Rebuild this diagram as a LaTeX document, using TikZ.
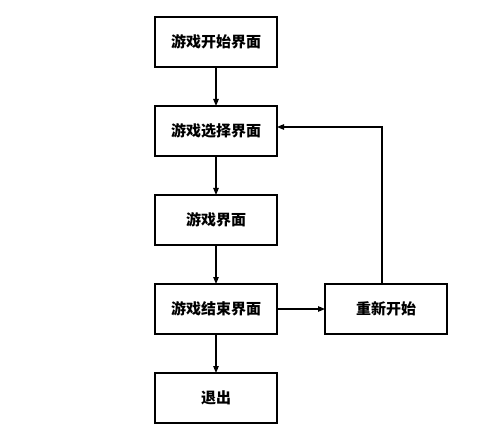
\documentclass[tikz,border=0pt]{standalone}
\usepackage{fontspec}
\newfontfamily\cjk{Noto Sans CJK SC}
\usetikzlibrary{arrows.meta, positioning}

\begin{document}
\begin{tikzpicture}[
    x=1pt, y=1pt,
    node distance=39pt and 48pt,
    stage/.style={rectangle, draw=black, line width=1.1pt, minimum width=122pt, minimum height=50pt, inner sep=0pt, outer sep=0pt, align=center, font=\cjk\bfseries\fontsize{15}{18}\selectfont},
    arrow/.style={-{Triangle[length=7pt, width=5.5pt]}, line width=1.1pt, draw=black}
]
\useasboundingbox (0,0) rectangle (500,-438);

\node[stage] (start) at (216,-42) {游戏开始界面};
\node[stage, below=of start] (select) {游戏选择界面};
\node[stage, below=of select] (play) {游戏界面};
\node[stage, below=of play] (gameover) {游戏结束界面};
\node[stage, below=of gameover] (quit) {退出};
\node[stage, right=of gameover] (restart) {重新开始};

\draw[arrow] (start) -- (select);
\draw[arrow] (select) -- (play);
\draw[arrow] (play) -- (gameover);
\draw[arrow] (gameover) -- (quit);
\draw[arrow] (gameover) -- (restart);
\draw[arrow] ([xshift=-4pt]restart.north) |- ([yshift=4pt]select.east);

\end{tikzpicture}
\end{document}
